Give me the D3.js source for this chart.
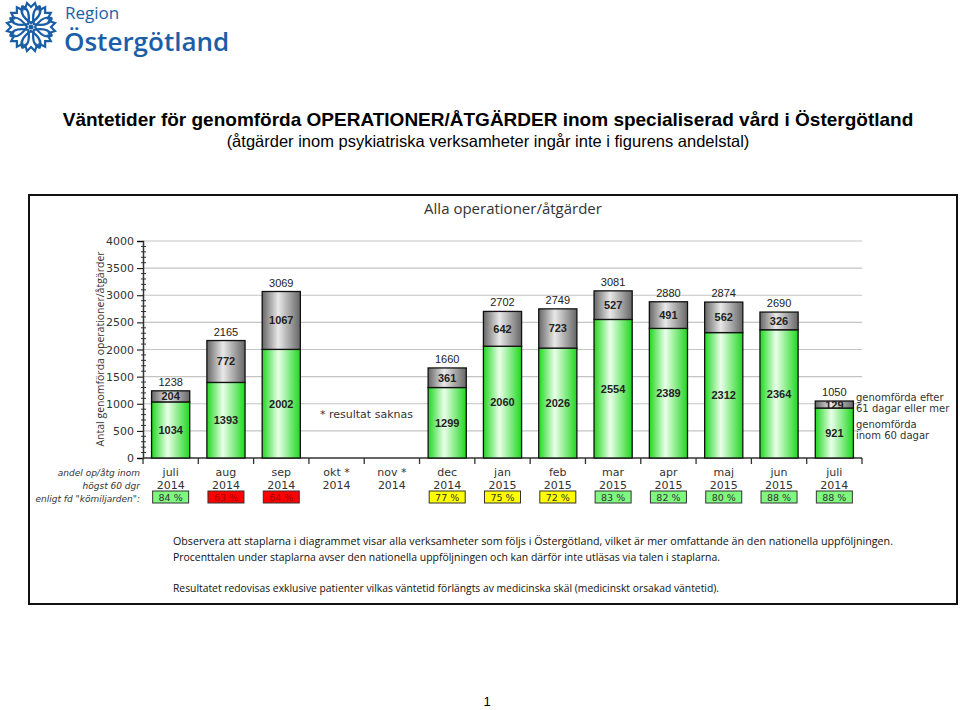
<!DOCTYPE html>
<meta charset="utf-8">
<style>
body { margin: 0; background: #fff; }
text { font-family: "Liberation Sans", Arial, sans-serif; }
.tick text { font-family: "DejaVu Sans", Verdana, sans-serif; }
.cal { font-family: "Open Sans", "Noto Sans", sans-serif; }
</style>
<svg width="960" height="710"></svg>
<script src="https://d3js.org/d3.v7.min.js"></script>
<script>

var months  = ["juli", "aug", "sep", "okt *", "nov *", "dec", "jan", "feb", "mar", "apr", "maj", "jun", "juli"];
var years   = ["2014", "2014", "2014", "2014", "2014", "2014", "2015", "2015", "2015", "2015", "2015", "2015", "2014"];
var inom60  = [1034, 1393, 2002, null, null, 1299, 2060, 2026, 2554, 2389, 2312, 2364, 921];
var efter61 = [204, 772, 1067, null, null, 361, 642, 723, 527, 491, 562, 326, 129];
var totals  = [1238, 2165, 3069, null, null, 1660, 2702, 2749, 3081, 2880, 2874, 2690, 1050];
var andel   = [84, 63, 64, null, null, 77, 75, 72, 83, 82, 80, 88, 88];
var yTicks  = [0, 500, 1000, 1500, 2000, 2500, 3000, 3500, 4000];

var notes = [
  "Observera att staplarna i diagrammet visar alla verksamheter som följs i Östergötland, vilket är mer omfattande än den nationella uppföljningen.",
  "Procenttalen under staplarna avser den nationella uppföljningen och kan därför inte utläsas via talen i staplarna.",
  "Resultatet redovisas exklusive patienter vilkas väntetid förlängts av medicinska skäl (medicinskt  orsakad väntetid)."
];

var svg = d3.select("svg");
var blue = "#1b5ea8";

// logo
var logo = svg.append("g").attr("transform", "translate(31,27)");
for (var i = 0; i < 8; i++) {
  logo.append("path")
    .attr("transform", "rotate(" + (i * 45) + ")")
    .attr("d", "M0,-4 C-6,-8 -11,-14 -9,-20 L-6,-18 L-4,-24 L0,-20 L4,-24 L6,-18 L9,-20 C11,-14 6,-8 0,-4 Z")
    .attr("fill", "none").attr("stroke", blue).attr("stroke-width", 2.2);
}
logo.append("circle").attr("r", 2.5).attr("fill", blue);
svg.append("text").attr("x", 65).attr("y", 19).attr("fill", blue)
  .style("font-family", "'Open Sans', sans-serif").style("font-size", "17px").text("Region");
svg.append("text").attr("x", 64).attr("y", 51).attr("fill", blue)
  .style("font-family", "'Open Sans', sans-serif").style("font-size", "26px").style("font-weight", "600").text("Östergötland");

// titles
svg.append("text").attr("x", 488).attr("y", 126).attr("text-anchor", "middle")
  .style("font-size", "19px").style("font-weight", "bold")
  .text("Väntetider för genomförda OPERATIONER/ÅTGÄRDER inom specialiserad vård i Östergötland");
svg.append("text").attr("x", 488).attr("y", 147).attr("text-anchor", "middle")
  .style("font-size", "16.5px")
  .text("(åtgärder inom psykiatriska verksamheter ingår inte i figurens andelstal)");

svg.append("rect").attr("x", 29).attr("y", 195).attr("width", 928).attr("height", 409)
  .attr("fill", "none").attr("stroke", "#111").attr("stroke-width", 2);

svg.append("text").attr("class", "cal").attr("x", 513).attr("y", 214).attr("text-anchor", "middle")
  .attr("fill", "#333").style("font-size", "15px").text("Alla operationer/åtgärder");

// gradients
var defs = svg.append("defs");
function grad(id, edge, mid) {
  var g = defs.append("linearGradient").attr("id", id);
  g.append("stop").attr("offset", "0%").attr("stop-color", edge);
  g.append("stop").attr("offset", "42%").attr("stop-color", mid);
  g.append("stop").attr("offset", "100%").attr("stop-color", edge);
}
grad("gGreen", "#1fd81f", "#eaffea");
grad("gGray", "#666666", "#e8e8e8");

var x = d3.scaleBand().domain(d3.range(months.length)).range([143, 862]).paddingInner(0.31).paddingOuter(0.155);
var y = d3.scaleLinear().domain([0, 4000]).range([458, 241]);

// grid
svg.append("g").selectAll("line").data(yTicks.slice(1)).join("line")
  .attr("x1", 143).attr("x2", 862).attr("y1", y).attr("y2", y)
  .attr("stroke", "#c4c4c4").attr("stroke-width", 1.2);

// y axis
var yAxis = svg.append("g").attr("transform", "translate(143,0)")
  .call(d3.axisLeft(y).tickValues(yTicks).tickFormat(d3.format("d")).tickSize(6).tickPadding(3));
yAxis.selectAll("text").style("font-size", "11px").attr("fill", "#333");
yAxis.select(".domain").attr("stroke", "#333").attr("stroke-width", 1.5);
svg.append("g").selectAll("line").data(d3.range(0, 4001, 100).filter(function(v) { return v % 500; })).join("line")
  .attr("x1", 141).attr("x2", 146).attr("y1", y).attr("y2", y).attr("stroke", "#333");

svg.append("text").attr("transform", "translate(104,349) rotate(-90)").attr("text-anchor", "middle")
  .attr("fill", "#333").style("font-size", "10.5px").style("font-family", "'Open Sans', sans-serif")
  .text("Antal genomförda operationer/åtgärder");

// x axis
svg.append("line").attr("x1", 143).attr("x2", 862).attr("y1", 458).attr("y2", 458).attr("stroke", "#333").attr("stroke-width", 1.5);
svg.append("g").selectAll("line").data(d3.range(months.length + 1)).join("line")
  .attr("x1", function(i) { return 143 + i * x.step(); }).attr("x2", function(i) { return 143 + i * x.step(); })
  .attr("y1", 458).attr("y2", 464).attr("stroke", "#333").attr("stroke-width", 1.3);

var cx = function(i) { return x(i) + x.bandwidth() / 2; };
var idx = d3.range(months.length);
var has = idx.filter(function(i) { return totals[i] != null; });

// bars
var bars = svg.append("g");
bars.selectAll(".g").data(has).join("rect")
  .attr("x", function(i) { return x(i); }).attr("width", x.bandwidth())
  .attr("y", function(i) { return y(inom60[i]); }).attr("height", function(i) { return y(0) - y(inom60[i]); })
  .attr("fill", "url(#gGreen)").attr("stroke", "#111").attr("stroke-width", 1.3);
bars.selectAll(".h").data(has).join("rect")
  .attr("x", function(i) { return x(i); }).attr("width", x.bandwidth())
  .attr("y", function(i) { return y(totals[i]); }).attr("height", function(i) { return y(inom60[i]) - y(totals[i]); })
  .attr("fill", "url(#gGray)").attr("stroke", "#111").attr("stroke-width", 1.3);

var lab = svg.append("g").attr("text-anchor", "middle").attr("class", "cal");
lab.selectAll(".a").data(has).join("text")
  .attr("x", cx).attr("y", function(i) { return y(inom60[i] / 2) + 4; })
  .style("font-size", "11px").style("font-weight", "bold").attr("fill", "#222")
  .text(function(i) { return inom60[i]; });
lab.selectAll(".b").data(has).join("text")
  .attr("x", cx).attr("y", function(i) { return y(inom60[i] + efter61[i] / 2) + 4; })
  .style("font-size", "11px").style("font-weight", "bold").attr("fill", "#222")
  .text(function(i) { return efter61[i]; });
lab.selectAll(".c").data(has).join("text")
  .attr("x", cx).attr("y", function(i) { return y(totals[i]) - 5; })
  .style("font-size", "11px").attr("fill", "#222")
  .text(function(i) { return totals[i]; });

// category labels
var cat = svg.append("g").attr("text-anchor", "middle").attr("fill", "#333");
cat.selectAll(".m").data(idx).join("text").attr("x", cx).attr("y", 476)
  .style("font-family", "'DejaVu Sans', Verdana, sans-serif").style("font-size", "11px").text(function(i) { return months[i]; });
cat.selectAll(".yr").data(idx).join("text").attr("x", cx).attr("y", 489)
  .style("font-family", "'DejaVu Sans', Verdana, sans-serif").style("font-size", "11px").text(function(i) { return years[i]; });

var pctColor = d3.scaleThreshold().domain([70, 80]).range(["#ff0000", "#ffff00", "#80f880"]);
var withPct = idx.filter(function(i) { return andel[i] != null; });
var pb = svg.append("g");
pb.selectAll("rect").data(withPct).join("rect")
  .attr("x", function(i) { return cx(i) - 18; }).attr("y", 491).attr("width", 36).attr("height", 12)
  .attr("fill", function(i) { return pctColor(andel[i]); }).attr("stroke", "#333").attr("stroke-width", 1);
pb.selectAll("text").data(withPct).join("text")
  .attr("x", cx).attr("y", 501).attr("text-anchor", "middle")
  .style("font-family", "'DejaVu Sans', Verdana, sans-serif").style("font-size", "9.5px")
  .attr("fill", function(i) { return andel[i] < 70 ? "#a00000" : "#333"; })
  .text(function(i) { return andel[i] + " %"; });

var rowLab = ["andel op/åtg inom", "högst 60 dgr", "enligt fd \"kömiljarden\":"];
svg.append("g").selectAll("text").data(rowLab).join("text")
  .attr("x", 140).attr("y", function(d, i) { return 476 + i * 13; }).attr("text-anchor", "end")
  .style("font-family", "'DejaVu Sans', Verdana, sans-serif").style("font-size", "9px").style("font-style", "italic")
  .attr("fill", "#333").text(function(d) { return d; });

svg.append("text").attr("x", 320).attr("y", 418).style("font-family", "'DejaVu Sans', Verdana, sans-serif")
  .style("font-size", "11px").attr("fill", "#333").text("*  resultat saknas");

// legend
var leg = ["genomförda efter", "61 dagar eller mer", "genomförda", "inom 60 dagar"];
svg.append("g").selectAll("text").data(leg).join("text")
  .attr("x", 856).attr("y", function(d, i) { return [401, 412, 428, 439][i]; })
  .style("font-family", "'DejaVu Sans', Verdana, sans-serif").style("font-size", "10px")
  .attr("fill", "#333").text(function(d) { return d; });

// notes
var nw = [720, 547, 546];
svg.append("g").selectAll("text").data(notes).join("text").attr("class", "cal")
  .attr("x", 173).attr("y", function(d, i) { return [545, 561, 592][i]; })
  .attr("textLength", function(d, i) { return nw[i]; }).attr("lengthAdjust", "spacingAndGlyphs")
  .style("font-size", "11.5px").attr("fill", "#111").text(function(d) { return d; });

svg.append("text").attr("x", 487).attr("y", 706).attr("text-anchor", "middle").style("font-size", "13px").text("1");

</script>
